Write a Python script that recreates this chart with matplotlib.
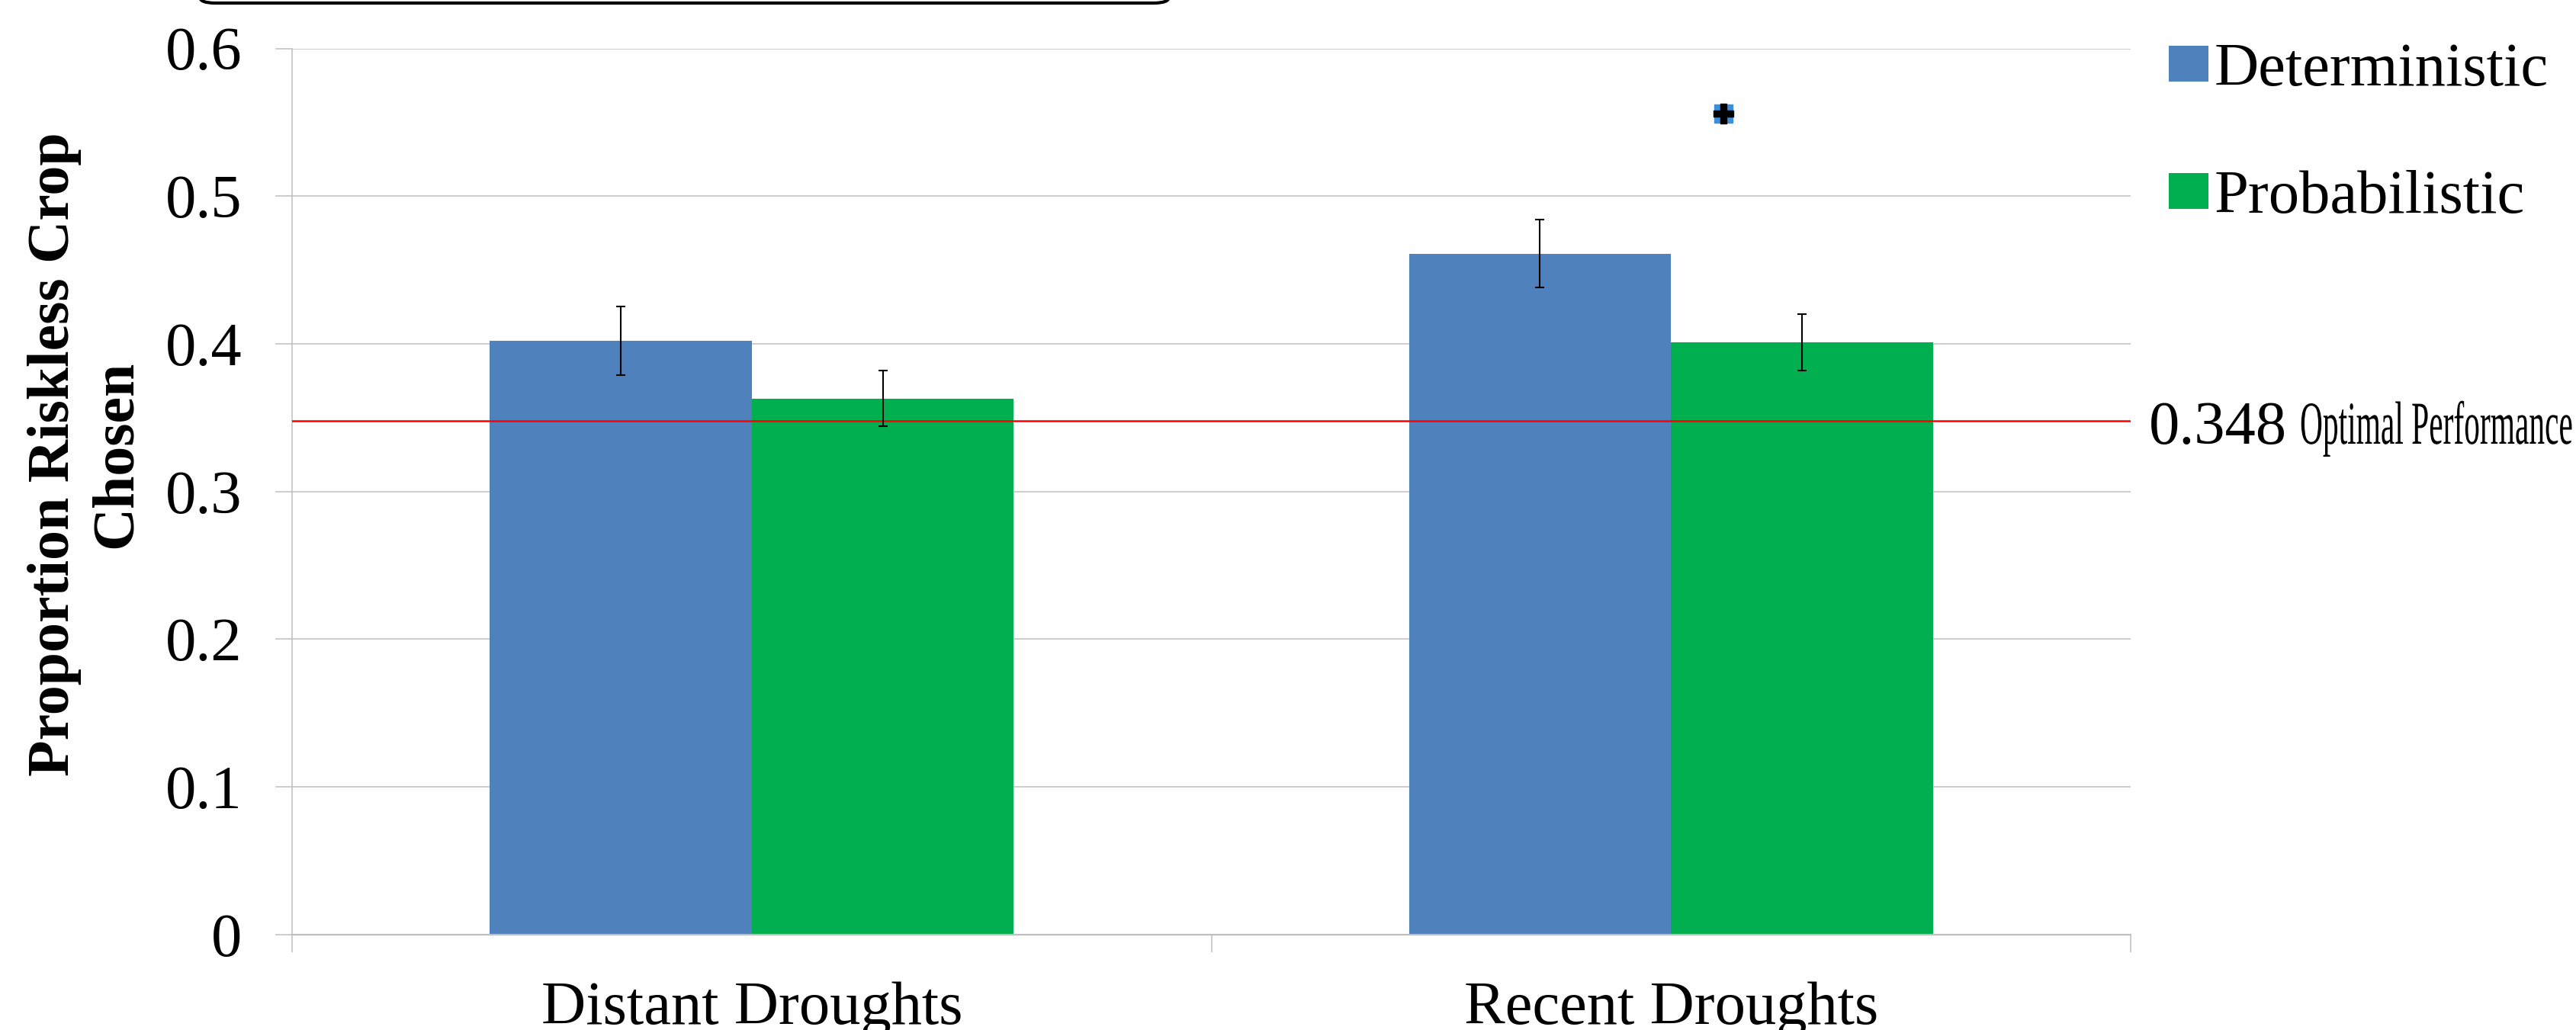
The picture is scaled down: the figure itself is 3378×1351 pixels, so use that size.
import matplotlib
matplotlib.use("Agg")
import matplotlib.pyplot as plt
from matplotlib.patches import FancyBboxPatch, PathPatch
from matplotlib.textpath import TextPath
from matplotlib.font_manager import FontProperties
from matplotlib.transforms import Affine2D
import numpy as np

# values
categories = ["Distant Droughts", "Recent Droughts"]
series_names = ["Deterministic", "Probabilistic"]
deterministic = [0.402, 0.461]
probabilistic = [0.363, 0.401]
det_err = [0.023, 0.023]
prob_err = [0.019, 0.019]
optimal = 0.348
star_x, star_y = 1.057, 0.556
y_ticks = [0, 0.1, 0.2, 0.3, 0.4, 0.5, 0.6]
y_tick_labels = ["0", "0.1", "0.2", "0.3", "0.4", "0.5", "0.6"]

W, H = 3378, 1351
plt.rcParams["font.family"] = ["Liberation Serif", "DejaVu Serif"]

fig = plt.figure(figsize=(W / 100, H / 100), dpi=100)
ax = fig.add_axes([383 / W, 1 - 1225.6 / H, (2794 - 383) / W, (1225.6 - 63.5) / H])

blue = "#4F81BD"
green = "#00B050"
grey = "#BFBFBF"

x = np.arange(len(categories))
bw = 0.285
ax.bar(x - bw / 2, deterministic, bw, color=blue, zorder=2, label=series_names[0])
ax.bar(x + bw / 2, probabilistic, bw, color=green, zorder=2, label=series_names[1])
ax.axhline(optimal, color="red", lw=1.8, zorder=3)
ax.errorbar(x - bw / 2, deterministic, yerr=det_err, fmt="none", ecolor="black",
            elinewidth=1.5, capsize=4.3, capthick=1.5, zorder=4)
ax.errorbar(x + bw / 2, probabilistic, yerr=prob_err, fmt="none", ecolor="black",
            elinewidth=1.5, capsize=4.3, capthick=1.5, zorder=4)
# significance marker (black core with a coloured fringe)
ax.plot([star_x], [star_y], marker="s", color="#3B8FDB", markersize=17, zorder=5)
ax.plot([star_x], [star_y], marker="P", color="black", markersize=19, zorder=6)

ax.set_xlim(-0.5, 1.5)
ax.set_ylim(0, 0.6)
ax.set_yticks(y_ticks)
ax.set_yticklabels(y_tick_labels, fontsize=58)
ax.yaxis.grid(True, color=grey, lw=1.1)
ax.set_axisbelow(True)
ax.tick_params(axis="y", length=16, width=1.1, color=grey, pad=31)

ax.set_xticks([-0.5, 0.5, 1.5])
ax.set_xticklabels([])
ax.set_xticks(x, minor=True)
ax.set_xticklabels(categories, minor=True, fontsize=58)
ax.tick_params(axis="x", which="major", length=16.5, width=1.1, color=grey)
ax.tick_params(axis="x", which="minor", length=0, pad=44)

for s in ["top", "right"]:
    ax.spines[s].set_visible(False)
ax.spines["left"].set_color(grey)
ax.spines["left"].set_linewidth(1.1)
ax.spines["bottom"].set_color(grey)
ax.spines["bottom"].set_linewidth(1.6)

fig.text(112 / W, 1 - 596 / H, "Proportion Riskless Crop\nChosen", rotation=90,
         ha="center", va="center", multialignment="center", fontsize=56,
         fontweight="bold", linespacing=1.2)

ax.legend(loc="upper left", bbox_to_anchor=(2844 / W, 1 - 56 / H),
          bbox_transform=fig.transFigure, frameon=False, fontsize=58,
          borderpad=0, borderaxespad=0, handlelength=0.65, handleheight=0.52,
          handletextpad=0.09, labelspacing=1.17)

# right-hand label of the optimal line
fig.text(2818 / W, 1 - 582 / H, f"{optimal:.3f}", fontsize=58, ha="left",
         va="baseline")
tp = TextPath((0, 0), "Optimal Performance", size=80,
              prop=FontProperties(family="Liberation Serif"))
tr = Affine2D().scale(0.518 / W, 1 / H).translate(3016 / W, 1 - 582 / H) + fig.transFigure
fig.add_artist(PathPatch(tp, transform=tr, facecolor="black", lw=0))

# partial rounded box at the top edge
fig.add_artist(FancyBboxPatch((262 / W, 1 - 4 / H), (1533 - 262) / W, 200 / H,
                              boxstyle="round,pad=0,rounding_size=0.006",
                              transform=fig.transFigure, facecolor="white",
                              edgecolor="black", lw=3))

fig.savefig("out.png", dpi=100)
